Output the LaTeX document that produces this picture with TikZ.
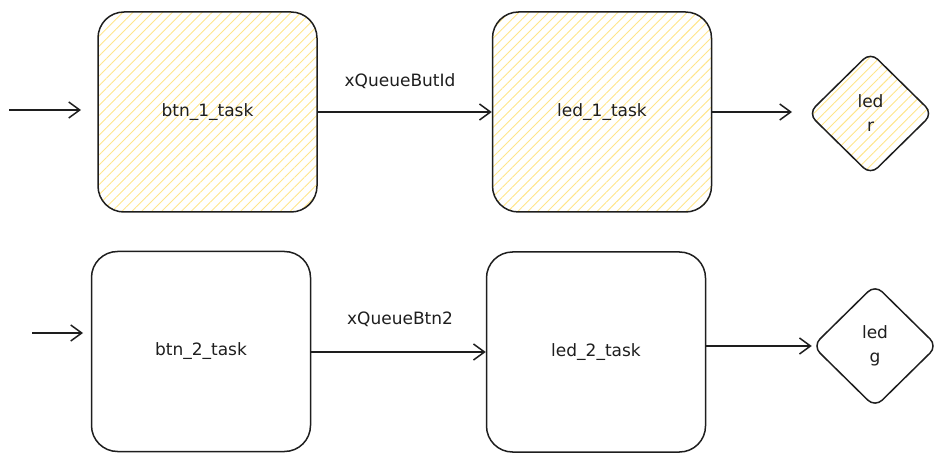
\documentclass[tikz,border=0pt]{standalone}
\usepackage{fontspec}
\setmainfont{DejaVu Sans}
\usetikzlibrary{arrows.meta,patterns.meta,shapes.geometric}
\definecolor{hatch}{HTML}{FFE58A}
\definecolor{ink}{HTML}{1E1E1E}
\begin{document}
\begin{tikzpicture}[x=1pt,y=-1pt,
  task/.style={draw=ink,line width=1.5pt,rounded corners=26pt,minimum width=219pt,minimum height=200pt,font=\fontsize{17}{20}\selectfont,text=ink},
  hatched/.style={pattern={Lines[angle=45,distance=7pt,line width=0.9pt]},pattern color=hatch},
  ledshape/.style={draw=ink,line width=1.5pt,diamond,rounded corners=10pt,minimum width=125pt,minimum height=123pt,inner sep=0pt,align=center,font=\fontsize{17}{24}\selectfont,text=ink},
  conn/.style={draw=ink,line width=1.5pt,-{Straight Barb[length=11pt,width=16pt,line width=1.5pt]}},
  lbl/.style={font=\fontsize{17}{20}\selectfont,text=ink}]
\useasboundingbox (0,0) rectangle (950,462);
\node[task,hatched] (b1) at (207.5,112) {btn\_1\_task};
\node[task,hatched] (l1) at (602,112) {led\_1\_task};
\node[ledshape,hatched] (r) at (870.5,113.5) {led\\r};
\node[task] (b2) at (201,351.5) {btn\_2\_task};
\node[task] (l2) at (596,352) {led\_2\_task};
\node[ledshape] (g) at (875,346) {led\\g};
\coordinate (in1) at (9,110);
\coordinate (in2) at (32,333);
\draw[conn] (in1) -- (81,110);
\draw[conn] (in2) -- (83,333);
\draw[conn] (b1.east |- 0,112) -- (l1.west |- 0,112);
\node[lbl] (q1) at (400,81) {xQueueButId};
\draw[conn] (l1.east |- 0,112) -- (792,112);
\draw[conn] (b2.east |- 0,352) -- (l2.west |- 0,352);
\node[lbl] (q2) at (400,319) {xQueueBtn2};
\draw[conn,line width=2.2pt] (l2.east |- g.west) -- (g.west);
\end{tikzpicture}
\end{document}
